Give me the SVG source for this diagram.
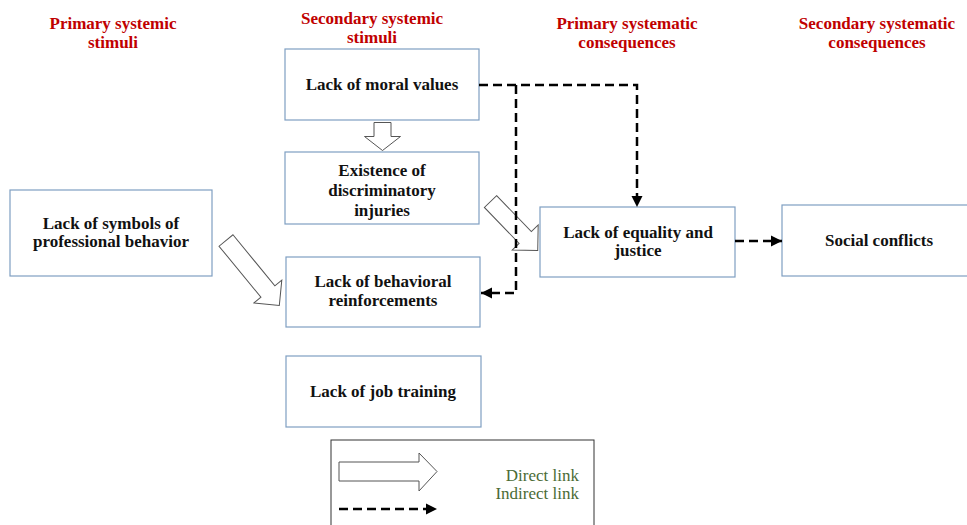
<svg xmlns="http://www.w3.org/2000/svg" width="967" height="525" viewBox="0 0 967 525">
<style>
.hdr{font-family:"Liberation Serif",serif;font-weight:bold;font-size:17px;fill:#c00000;text-anchor:middle}
.box{fill:#fff;stroke:#7f9fc2;stroke-width:1.2}
.lbl{font-family:"Liberation Serif",serif;font-weight:bold;font-size:17px;fill:#111;text-anchor:middle}
.blk{fill:#fff;stroke:#555;stroke-width:1}
.dash{fill:none;stroke:#000;stroke-width:2.5;stroke-dasharray:9,5}
.leg{font-family:"Liberation Serif",serif;font-size:17px;fill:#4a6b35;text-anchor:end}
</style>
<defs>
<marker id="ah" markerUnits="userSpaceOnUse" markerWidth="12" markerHeight="12" refX="11" refY="6" orient="auto">
<path d="M0,0.5 L11,6 L0,11.5 z" fill="#000"/>
</marker>
</defs>
<rect width="967" height="525" fill="#fff"/>
<g id="headers">
<text class="hdr" x="113" y="29">Primary systemic</text>
<text class="hdr" x="113" y="48">stimuli</text>
<text class="hdr" x="372" y="24">Secondary systemic</text>
<text class="hdr" x="372" y="43">stimuli</text>
<text class="hdr" x="627" y="29">Primary systematic</text>
<text class="hdr" x="627" y="48">consequences</text>
<text class="hdr" x="877" y="29">Secondary systematic</text>
<text class="hdr" x="877" y="48">consequences</text>
</g>
<g id="moral">
<rect class="box" x="285" y="49" width="194" height="71"/>
<text class="lbl" x="382" y="90">Lack of moral values</text>
</g>
<g id="discrim">
<rect class="box" x="285" y="152" width="194" height="72"/>
<text class="lbl" x="382" y="176">Existence of</text>
<text class="lbl" x="382" y="196">discriminatory</text>
<text class="lbl" x="382" y="216">injuries</text>
</g>
<g id="symbols">
<rect class="box" x="10" y="190" width="202" height="86"/>
<text class="lbl" x="111" y="229">Lack of symbols of</text>
<text class="lbl" x="111" y="247">professional behavior</text>
</g>
<g id="behav">
<rect class="box" x="286" y="257" width="194" height="70"/>
<text class="lbl" x="383" y="287">Lack of behavioral</text>
<text class="lbl" x="383" y="306">reinforcements</text>
</g>
<g id="training">
<rect class="box" x="286" y="356" width="195" height="71"/>
<text class="lbl" x="383" y="397">Lack of job training</text>
</g>
<g id="equality">
<rect class="box" x="540" y="207" width="195" height="70"/>
<text class="lbl" x="638" y="238">Lack of equality and</text>
<text class="lbl" x="638" y="256">justice</text>
</g>
<g id="social">
<rect class="box" x="782" y="205" width="190" height="71"/>
<text class="lbl" x="879" y="246">Social conflicts</text>
</g>
<g id="connectors">
<path class="blk" transform="translate(382.5,122.5) rotate(90)" d="M0,-8.5 L14,-8.5 L14,-18 L28,0 L14,18 L14,8.5 L0,8.5 Z"/>
<path class="blk" transform="translate(226,240.5) rotate(50.6)" d="M0,-9 L66,-9 L66,-18 L84,0 L66,18 L66,9 L0,9 Z"/>
<path class="blk" transform="translate(490.5,201.5) rotate(46)" d="M0,-8.5 L50,-8.5 L50,-18 L68,0 L50,18 L50,8.5 L0,8.5 Z"/>
<path class="dash" d="M479,85 H637 V207" marker-end="url(#ah)"/>
<path class="dash" d="M516,85 V293 H481" marker-end="url(#ah)"/>
<path class="dash" d="M735,241 H782" marker-end="url(#ah)"/>
</g>
<g id="legend">
<rect x="331" y="440" width="263" height="100" fill="#fff" stroke="#333" stroke-width="1"/>
<path class="blk" d="M339,462 L419,462 L419,453 L437,471.5 L419,491 L419,481 L339,481 Z"/>
<path class="dash" d="M339,509 H437" marker-end="url(#ah)"/>
<text class="leg" x="579" y="481">Direct link</text>
<text class="leg" x="579" y="499">Indirect link</text>
</g>
</svg>
